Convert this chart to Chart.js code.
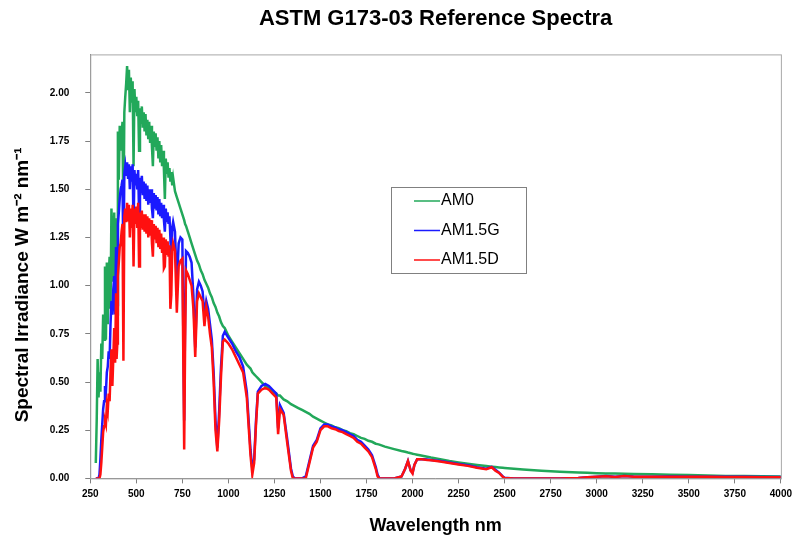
<!DOCTYPE html>
<html>
<head>
<meta charset="utf-8">
<title>ASTM G173-03 Reference Spectra</title>
<script src="https://cdn.jsdelivr.net/npm/chart.js@4.4.1/dist/chart.umd.min.js"></script>
<style>
  html, body { margin: 0; padding: 0; background: #fff; }
  #wrap { width: 797px; height: 544px; }
</style>
</head>
<body>
<div id="wrap"><canvas id="spectra" width="797" height="544"></canvas></div>
<script>
// wavelength, nm
const wl = [
  280, 285, 290, 295, 300, 305, 310, 315, 320, 325,
  330, 335, 340, 345, 350, 355, 360, 365, 370, 375,
  380, 385, 390, 393, 397, 400, 405, 410, 415, 420, 425, 430, 435,
  440, 445, 450, 455, 460, 465, 470, 475, 480, 485,
  490, 495, 500, 505, 510, 515, 520, 525, 530, 535,
  540, 545, 550, 555, 560, 565, 570, 575, 580, 585,
  590, 595, 600, 605, 610, 615, 620, 625, 630, 635,
  640, 645, 650, 655, 660, 665, 670, 675, 680, 685,
  690, 695, 700,
  710, 720, 730, 740, 750, 760, 765, 770,
  780, 790, 800, 810, 820, 830, 840, 850, 860, 870,
  880, 890, 900, 910, 920, 930, 940, 950, 960, 970,
  980, 1000, 1020, 1040, 1060, 1080, 1100, 1110, 1120, 1130,
  1140, 1150, 1160, 1180, 1200, 1220, 1240, 1260, 1270, 1280,
  1300, 1320, 1340, 1350, 1360, 1380, 1400, 1420, 1440, 1460,
  1480, 1500, 1520, 1540, 1560, 1580, 1600, 1620, 1640, 1660,
  1680, 1700, 1720, 1740, 1760, 1780, 1800, 1810, 1820, 1850,
  1900, 1940, 1960, 1975, 1990, 2000, 2010, 2025, 2040, 2060,
  2080, 2100, 2150, 2200, 2250, 2300, 2350, 2400, 2430, 2450,
  2470, 2490, 2500, 2550, 2600, 2700, 2800, 2900, 2950, 3000,
  3050, 3100, 3150, 3200, 3300, 3400, 3500, 3600, 3700, 3800, 3900, 4000
];

// spectral irradiance, W m-2 nm-1
const am0 = [
  0.08, 0.30, 0.62, 0.42, 0.55, 0.45, 0.70, 0.62, 0.85, 0.72,
  1.10, 0.72, 1.12, 0.80, 1.05, 1.15, 0.88, 1.40, 1.20, 1.02,
  1.38, 0.95, 1.35, 0.70, 0.85, 1.80, 1.55, 1.83, 1.70, 1.78, 1.85, 1.30, 1.90,
  1.98, 2.05, 2.14, 2.02, 2.12, 1.90, 2.08, 1.95, 2.06, 1.62,
  2.02, 1.90, 1.98, 1.88, 1.96, 1.70, 1.92, 1.84, 1.93, 1.82,
  1.90, 1.80, 1.89, 1.78, 1.86, 1.76, 1.85, 1.74, 1.83, 1.72,
  1.62, 1.80, 1.72, 1.79, 1.70, 1.77, 1.66, 1.75, 1.64, 1.73,
  1.62, 1.70, 1.60, 1.45, 1.66, 1.58, 1.64, 1.56, 1.61, 1.54,
  1.59, 1.52, 1.56,
  1.49, 1.46, 1.43, 1.40, 1.37, 1.34, 1.32, 1.31,
  1.28, 1.25, 1.22, 1.19, 1.16, 1.13, 1.11, 1.08, 1.06, 1.03,
  1.01, 0.99, 0.96, 0.94, 0.91, 0.89, 0.86, 0.84, 0.81, 0.79,
  0.78, 0.74, 0.71, 0.68, 0.65, 0.62, 0.59, 0.58, 0.57, 0.55,
  0.54, 0.53, 0.52, 0.50, 0.48, 0.47, 0.45, 0.44, 0.43, 0.43,
  0.41, 0.40, 0.385, 0.38, 0.375, 0.365, 0.355, 0.345, 0.335, 0.32,
  0.31, 0.30, 0.29, 0.28, 0.275, 0.265, 0.26, 0.25, 0.245, 0.235,
  0.23, 0.22, 0.21, 0.205, 0.195, 0.19, 0.18, 0.178, 0.175, 0.165,
  0.152, 0.142, 0.138, 0.134, 0.131, 0.128, 0.126, 0.123, 0.12, 0.116,
  0.112, 0.108, 0.10, 0.09, 0.083, 0.076, 0.07, 0.064, 0.061, 0.059,
  0.057, 0.055, 0.054, 0.05, 0.046, 0.04, 0.035, 0.031, 0.029, 0.027,
  0.026, 0.025, 0.024, 0.023, 0.021, 0.019, 0.017, 0.015, 0.013, 0.012, 0.011, 0.01
];

const am15g = [
  0, 0, 0, 0, 0.02, 0.10, 0.20, 0.28, 0.36, 0.40,
  0.48, 0.45, 0.55, 0.58, 0.66, 0.62, 0.80, 0.92, 0.85, 0.98,
  1.05, 0.85, 1.20, 0.80, 0.90, 1.32, 1.38, 1.45, 1.50, 1.52, 1.55, 1.10, 1.58,
  1.62, 1.57, 1.64, 1.56, 1.63, 1.50, 1.62, 1.54, 1.63, 1.30,
  1.60, 1.52, 1.58, 1.50, 1.60, 1.38, 1.56, 1.48, 1.57, 1.47,
  1.54, 1.45, 1.53, 1.44, 1.52, 1.42, 1.50, 1.43, 1.50, 1.40,
  1.35, 1.48, 1.40, 1.47, 1.39, 1.46, 1.37, 1.45, 1.36, 1.43,
  1.35, 1.42, 1.34, 1.28, 1.40, 1.33, 1.38, 1.32, 1.36, 1.25,
  1.12, 1.30, 1.33,
  1.28, 1.00, 1.22, 1.25, 1.24, 0.30, 0.85, 1.18,
  1.17, 1.15, 1.12, 0.95, 0.68, 0.98, 1.02, 1.00, 0.97, 0.85,
  0.92, 0.88, 0.80, 0.72, 0.55, 0.30, 0.16, 0.35, 0.58, 0.74,
  0.76, 0.73, 0.70, 0.66, 0.63, 0.58, 0.45, 0.30, 0.15, 0.05,
  0.10, 0.30, 0.45, 0.48, 0.49, 0.48, 0.46, 0.44, 0.26, 0.38,
  0.34, 0.20, 0.05, 0.01, 0, 0, 0, 0.01, 0.09, 0.17,
  0.20, 0.26, 0.28, 0.28, 0.27, 0.265, 0.255, 0.25, 0.24, 0.23,
  0.22, 0.20, 0.19, 0.17, 0.15, 0.12, 0.06, 0.02, 0, 0,
  0, 0.01, 0.05, 0.09, 0.04, 0.03, 0.07, 0.10, 0.10, 0.10,
  0.098, 0.096, 0.09, 0.083, 0.075, 0.068, 0.058, 0.05, 0.06, 0.045,
  0.03, 0.01, 0.003, 0, 0, 0, 0, 0.002, 0.006, 0.009,
  0.012, 0.008, 0.013, 0.010, 0.009, 0.010, 0.009, 0.009, 0.008, 0.008, 0.007, 0.007
];

const am15d = [
  0, 0, 0, 0, 0, 0.02, 0.08, 0.16, 0.24, 0.27,
  0.30, 0.28, 0.38, 0.35, 0.44, 0.40, 0.55, 0.67, 0.48, 0.62,
  0.78, 0.60, 0.96, 0.62, 0.70, 1.05, 1.12, 1.20, 1.22, 1.28, 1.32, 0.61, 1.36,
  1.40, 1.33, 1.43, 1.34, 1.42, 1.25, 1.40, 1.30, 1.42, 1.10,
  1.40, 1.32, 1.41, 1.30, 1.43, 1.10, 1.38, 1.30, 1.39, 1.29,
  1.37, 1.28, 1.37, 1.27, 1.36, 1.25, 1.35, 1.26, 1.34, 1.22,
  1.15, 1.32, 1.24, 1.31, 1.22, 1.30, 1.20, 1.29, 1.19, 1.27,
  1.17, 1.25, 1.09, 1.10, 1.24, 1.16, 1.23, 1.15, 1.21, 0.88,
  0.95, 1.18, 1.22,
  1.18, 0.86, 1.10, 1.13, 1.14, 0.15, 0.70, 1.08,
  1.06, 1.03, 1.00, 0.88, 0.63, 0.92, 0.96, 0.94, 0.92, 0.79,
  0.89, 0.84, 0.75, 0.68, 0.50, 0.25, 0.14, 0.30, 0.53, 0.71,
  0.72, 0.70, 0.67, 0.63, 0.59, 0.55, 0.42, 0.27, 0.12, 0.02,
  0.08, 0.28, 0.44, 0.46, 0.47, 0.46, 0.44, 0.42, 0.23, 0.36,
  0.33, 0.18, 0.04, 0, 0, 0, 0, 0, 0.08, 0.16,
  0.19, 0.25, 0.27, 0.27, 0.26, 0.255, 0.245, 0.24, 0.23, 0.22,
  0.21, 0.19, 0.18, 0.16, 0.14, 0.11, 0.05, 0.01, 0, 0,
  0, 0.01, 0.05, 0.09, 0.04, 0.025, 0.07, 0.10, 0.10, 0.098,
  0.095, 0.094, 0.088, 0.08, 0.072, 0.065, 0.055, 0.048, 0.058, 0.04,
  0.028, 0.008, 0.002, 0, 0, 0, 0, 0.002, 0.006, 0.008,
  0.011, 0.007, 0.012, 0.009, 0.008, 0.009, 0.008, 0.008, 0.007, 0.007, 0.006, 0.006
];

const seriesNames = ["AM0", "AM1.5G", "AM1.5D"];
const xTicks = [250, 500, 750, 1000, 1250, 1500, 1750, 2000, 2250, 2500, 2750, 3000, 3250, 3500, 3750, 4000];
const yTicks = [0, 0.25, 0.5, 0.75, 1.0, 1.25, 1.5, 1.75, 2.0];

const colors = ["#22a85a", "#1a1aff", "#ff1010"];

function points(vals) {
  return wl.map((x, i) => ({ x: x, y: vals[i] }));
}

Chart.defaults.font.family = '"Liberation Sans", Arial, sans-serif';
Chart.defaults.color = "#000";

// grey frame round the plot area
const plotFrame = {
  id: "plotFrame",
  afterDatasetsDraw(chart) {
    const a = chart.chartArea;
    const ctx = chart.ctx;
    ctx.save();
    ctx.strokeStyle = "#a8a8a8";
    ctx.lineWidth = 1;
    ctx.strokeRect(a.left + 0.5, a.top + 0.5, a.right - a.left, a.bottom - a.top);
    ctx.restore();
  }
};

// boxed legend inside the plot, like the original
const boxLegend = {
  id: "boxLegend",
  afterDraw(chart) {
    const ctx = chart.ctx;
    const x = 391, y = 187, w = 135, h = 86;
    ctx.save();
    ctx.fillStyle = "#fff";
    ctx.fillRect(x, y, w, h);
    ctx.strokeStyle = "#808080";
    ctx.lineWidth = 1;
    ctx.strokeRect(x + 0.5, y + 0.5, w, h);
    ctx.font = '16px "Liberation Sans", Arial, sans-serif';
    ctx.textBaseline = "middle";
    chart.data.datasets.forEach((ds, i) => {
      const ly = y + 14 + i * 29.5;
      ctx.strokeStyle = ds.borderColor;
      ctx.lineWidth = 1.5;
      ctx.beginPath();
      ctx.moveTo(414, ly);
      ctx.lineTo(440, ly);
      ctx.stroke();
      ctx.fillStyle = "#000";
      ctx.fillText(ds.label, 441, ly);
    });
    ctx.restore();
  }
};

new Chart("spectra", {
  type: "line",
  data: {
    datasets: [
      { label: seriesNames[0], data: points(am0), borderColor: colors[0], order: 3 },
      { label: seriesNames[1], data: points(am15g), borderColor: colors[1], order: 2 },
      { label: seriesNames[2], data: points(am15d), borderColor: colors[2], order: 1 },
    ],
  },
  options: {
    responsive: false,
    animation: false,
    events: [],
    elements: {
      line: { borderWidth: 2.5, tension: 0, fill: false },
      point: { radius: 0 },
    },
    layout: { padding: { left: 0, right: 16, top: 0, bottom: 7 } },
    plugins: {
      legend: { display: false },
      tooltip: { enabled: false },
      title: {
        display: true,
        fullSize: false,
        text: "ASTM G173-03 Reference Spectra",
        font: { size: 22, weight: "bold" },
        padding: { top: 6, bottom: 22 },
      },
    },
    scales: {
      x: {
        type: "linear",
        min: 250,
        max: 4000,
        afterBuildTicks: (s) => { s.ticks = xTicks.map((v) => ({ value: v })); },
        ticks: {
          font: { size: 10, weight: "bold" },
          autoSkip: false,
          maxRotation: 0,
          padding: 5,
          callback: (v) => String(v),
        },
        grid: { drawOnChartArea: false, tickLength: 5, color: "#808080" },
        border: { color: "#808080" },
        title: {
          display: true,
          text: "Wavelength nm",
          font: { size: 18, weight: "bold" },
          padding: { top: 10, bottom: 0 },
        },
      },
      y: {
        min: 0,
        max: 2.2,
        afterBuildTicks: (s) => { s.ticks = yTicks.map((v) => ({ value: v })); },
        ticks: {
          font: { size: 10, weight: "bold" },
          padding: 16,
          callback: (v) => v.toFixed(2),
        },
        grid: { drawOnChartArea: false, tickLength: 5, color: "#808080" },
        border: { color: "#808080" },
        title: {
          display: true,
          // trailing spaces nudge the label a bit down, as in the original
          text: "Spectral Irradiance W m\u207B\u00B2 nm\u207B\u00B9\u00A0\u00A0\u00A0\u00A0\u00A0\u00A0\u00A0",
          font: { size: 19, weight: "bold" },
          padding: { top: 11, bottom: 0 },
        },
      },
    },
  },
  plugins: [plotFrame, boxLegend],
});
</script>
</body>
</html>
